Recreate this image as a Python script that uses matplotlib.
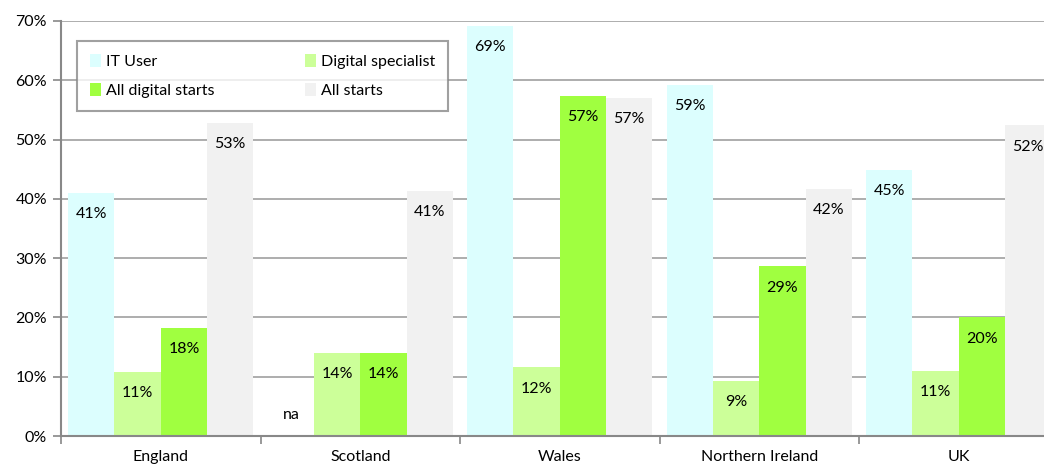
import numpy as np
import matplotlib.pyplot as plt

regions = ["England", "Scotland", "Wales", "Northern Ireland", "UK"]
series = ["IT User", "Digital specialist", "All digital starts", "All starts"]
it_user = [41.0, np.nan, 69.2, 59.2, 44.9]
digital_specialist = [10.8, 14.0, 11.6, 9.3, 11.0]
all_digital = [18.3, 14.0, 57.4, 28.6, 20.0]
all_starts = [52.8, 41.3, 57.0, 41.7, 52.4]
colors = ["#dcfefe", "#ccff99", "#a0ff40", "#f1f1f1"]

plt.rcParams['font.family'] = ['Lato', 'DejaVu Sans']

fig = plt.figure(figsize=(10.44, 4.66), dpi=100)
ax = fig.add_axes([61 / 1044, 30 / 466, 997.5 / 1044, 415 / 466])

x = np.arange(len(regions))
w = 0.232
data = [it_user, digital_specialist, all_digital, all_starts]
handles = []
for i, (name, vals) in enumerate(zip(series, data)):
    pos = x + (i - 1.5) * w
    h = ax.bar(pos, vals, w, color=colors[i], label=name, zorder=2)
    handles.append(h)
    for p, v in zip(pos, vals):
        if np.isnan(v):
            ax.text(p, 3.6, "na", ha="center", va="center", fontsize=11.5, zorder=3)
        else:
            ax.text(p, v - 3.6, f"{v:.0f}%", ha="center", va="center", fontsize=11.5, zorder=3)

ax.set_xlim(-0.5, 4.5)
ax.set_ylim(0, 70)
ax.set_yticks(range(0, 71, 10))
ax.set_yticklabels([f"{t}%" for t in range(0, 71, 10)], fontsize=11.5)
ax.yaxis.grid(True, color="#a0a0a0", linewidth=1.2, zorder=0)
ax.set_axisbelow(True)

ax.set_xticks(np.arange(-0.5, 5, 1))
ax.set_xticklabels([])
ax.set_xticks(x, minor=True)
ax.set_xticklabels(regions, minor=True, fontsize=11.5)
ax.tick_params(axis="x", which="minor", length=0, pad=10)
ax.tick_params(axis="x", which="major", length=6, color="#888888", width=1.2)
ax.tick_params(axis="y", length=6, color="#888888", width=1.2, pad=4)

for s in ["top", "right"]:
    ax.spines[s].set_visible(False)
for s in ["left", "bottom"]:
    ax.spines[s].set_color("#888888")
    ax.spines[s].set_linewidth(1.5)

order = [0, 2, 1, 3]
leg = ax.legend([handles[i] for i in order], [series[i] for i in order], ncol=2,
                loc="upper left", mode="expand",
                bbox_to_anchor=(16 / 997.5, 0.79, 371 / 997.5, 0.162),
                fontsize=11.5, frameon=True, fancybox=False, handlelength=0.7,
                handleheight=0.9, borderpad=0.8, labelspacing=0.9,
                handletextpad=0.3, borderaxespad=0)
leg.get_frame().set_edgecolor("#888888")
leg.get_frame().set_linewidth(1.5)

fig.savefig("out.png", dpi=100)
